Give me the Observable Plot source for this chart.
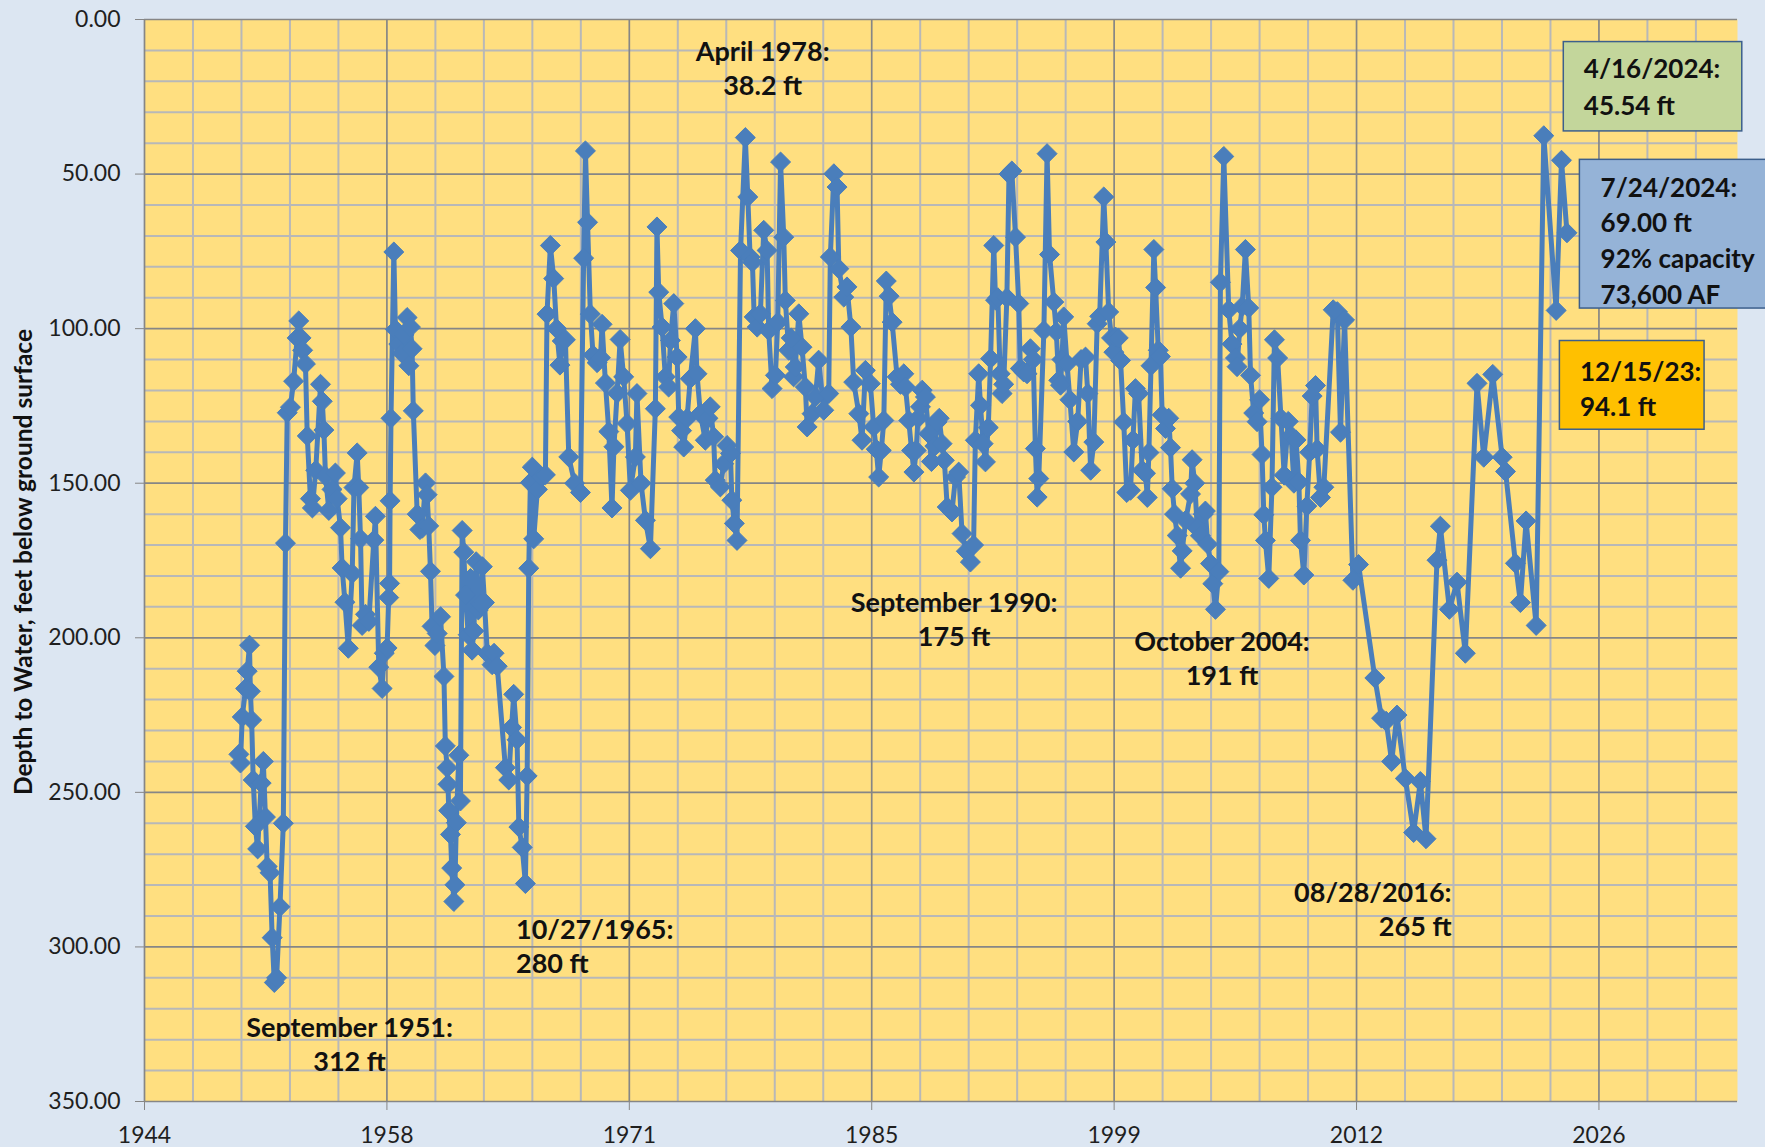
<!DOCTYPE html>
<html>
<head>
<meta charset="utf-8">
<script src="https://cdn.jsdelivr.net/npm/d3@7"></script>
<script src="https://cdn.jsdelivr.net/npm/@observablehq/plot@0.6"></script>
<style>
  html, body { margin: 0; padding: 0; background: #dce6f2; }
  #wrap { position: relative; width: 1765px; height: 1147px; overflow: hidden; background: #dce6f2; }
  #ytitle { position: absolute; left: 22px; top: 562px; transform: translate(-50%, -50%) rotate(-90deg);
            font: bold 24.5px Lato, "Open Sans", sans-serif; color: #111; white-space: nowrap; }
</style>
</head>
<body>
<div id="wrap">
  <div id="chart"></div>
  <div id="ytitle">Depth to Water, feet below ground surface</div>
</div>
<script>
// ---- Data (decimal year, depth to water in ft) ----
const years = [
1949.83,1949.92,1950.02,1950.21,1950.30,1950.43,1950.48,1950.55,1950.64,1950.76,
1950.89,1951.09,1951.21,1951.33,1951.43,1951.59,1951.71,1951.83,1951.96,1952.15,
1952.34,1952.46,1952.56,1952.74,1952.92,1953.12,1953.21,1953.34,1953.43,1953.59,
1953.69,1953.87,1953.98,1954.17,1954.44,1954.54,1954.63,1954.72,1954.91,1955.09,
1955.28,1955.38,1955.57,1955.66,1955.82,1956.01,1956.23,1956.33,1956.51,1956.60,
1956.70,1956.79,1956.98,1957.17,1957.45,1957.54,1957.73,1957.92,1958.04,1958.20,
1958.29,1958.34,1958.37,1958.42,1958.58,1958.67,1958.86,1959.05,1959.15,1959.33,
1959.43,1959.52,1959.61,1959.68,1959.90,1960.05,1960.18,1960.37,1960.46,1960.55,
1960.65,1960.74,1960.90,1961.03,1961.22,1961.41,1961.49,1961.59,1961.64,1961.68,
1961.78,1961.85,1961.97,1962.03,1962.11,1962.25,1962.34,1962.44,1962.53,1962.63,
1962.78,1962.91,1963.00,1963.10,1963.23,1963.35,1963.48,1963.58,1963.70,1963.86,
1964.13,1964.24,1964.42,1964.88,1965.07,1965.23,1965.35,1965.54,1965.64,1965.83,
1966.01,1966.11,1966.20,1966.29,1966.40,1966.48,1966.69,1966.94,1967.14,1967.23,
1967.42,1967.61,1967.77,1967.96,1968.09,1968.27,1968.46,1968.79,1969.12,1969.30,
1969.40,1969.52,1969.68,1969.83,1970.06,1970.25,1970.34,1970.53,1970.72,1970.90,
1971.01,1971.19,1971.36,1971.56,1971.75,1971.94,1972.22,1972.31,1972.54,1972.79,
1973.07,1973.35,1973.44,1973.54,1973.73,1973.91,1974.10,1974.20,1974.39,1974.58,
1974.67,1974.83,1974.95,1975.14,1975.32,1975.61,1975.70,1975.89,1976.17,1976.32,
1976.45,1976.64,1976.73,1977.02,1977.21,1977.40,1977.59,1977.67,1977.81,1977.96,
1978.16,1978.43,1978.57,1978.70,1978.83,1978.93,1979.10,1979.28,1979.47,1979.66,
1979.75,1979.94,1980.13,1980.26,1980.42,1980.60,1980.69,1980.88,1981.02,1981.16,
1981.25,1981.45,1981.63,1981.82,1981.92,1982.20,1982.39,1982.57,1982.86,1983.14,
1983.23,1983.43,1983.61,1983.71,1983.99,1984.17,1984.39,1984.55,1984.84,1985.02,
1985.21,1985.49,1985.68,1985.82,1985.96,1986.11,1986.25,1986.39,1986.55,1986.72,
1987.00,1987.19,1987.38,1987.47,1987.66,1987.82,1987.95,1988.08,1988.18,1988.32,
1988.42,1988.60,1988.79,1988.94,1989.13,1989.26,1989.38,1989.54,1989.67,1989.83,
1990.10,1990.30,1990.48,1990.67,1990.91,1991.14,1991.32,1991.42,1991.61,1991.71,
1991.86,1991.99,1992.15,1992.28,1992.46,1992.56,1992.69,1992.82,1992.93,1993.02,
1993.20,1993.32,1993.48,1993.69,1993.87,1993.96,1994.15,1994.34,1994.53,1994.69,
1994.81,1994.91,1995.00,1995.29,1995.47,1995.61,1995.85,1995.99,1996.13,1996.23,
1996.31,1996.41,1996.60,1996.76,1996.98,1997.20,1997.39,1997.64,1997.77,1997.93,
1998.11,1998.30,1998.44,1998.67,1998.79,1998.95,1999.11,1999.24,1999.33,1999.49,
1999.62,1999.80,1999.97,2000.18,2000.32,2000.46,2000.64,2000.84,2001.03,2001.13,
2001.22,2001.34,2001.50,2001.60,2001.75,2001.87,2001.97,2002.16,2002.34,2002.44,
2002.54,2002.67,2002.82,2003.01,2003.10,2003.30,2003.57,2003.66,2003.81,2003.95,
2004.13,2004.29,2004.41,2004.54,2004.70,2004.83,2004.98,2005.17,2005.26,2005.45,
2005.73,2005.91,2006.11,2006.20,2006.35,2006.49,2006.67,2006.86,2006.96,2007.14,
2007.33,2007.47,2007.61,2007.71,2007.80,2007.99,2008.17,2008.31,2008.49,2008.68,
2008.86,2009.09,2009.25,2009.41,2009.53,2009.69,2009.78,2009.97,2010.14,2010.30,
2010.44,2010.63,2010.72,2010.91,2011.10,2011.63,2011.86,2012.04,2012.27,2012.74,
2013.06,2013.98,2014.36,2014.62,2014.93,2015.23,2015.70,2016.17,2016.55,2016.87,
2017.49,2017.68,2018.19,2018.62,2019.09,2019.75,2020.13,2020.64,2021.17,2021.36,
2021.92,2022.20,2022.52,2023.09,2023.52,2024.22,2024.52,2024.83
];
const depths = [
237.7,240.5,225.6,216.4,210.8,202.4,217.3,226.6,246,261,
268.3,247,240,258,274,276,297,311.5,310,287,
260,169.4,127.2,125.4,117,103,97.5,103,107,111.4,
134.7,155,158,145.8,118,123.5,132.8,147.7,158.8,152,
146.7,155,164.4,177.4,188.5,203.4,179.2,151.4,140.2,151.4,
168,196,192.4,194.7,168.4,160.7,209.5,216.4,205,203.3,
187,182.4,155.7,129,75.2,100.3,105,108,102,96.4,
112,99.5,106.5,126.6,160,165,164.6,149.9,153.7,163.8,
178.5,196.3,202.5,198.6,193.2,212.5,235,242,247.4,255.9,
263.6,274.5,285.3,279.9,259.8,238,252.8,165.3,172.3,186.2,
199,180.8,204,197.8,175.4,191,189,177,188.6,205,
208.7,205,209.2,242,246,229,218.3,233,261.2,267.8,
279.5,244.7,177.5,149.8,144.8,168,152,148,147.3,95.3,
73.1,83.8,100,111.8,104,103.6,141.5,150,153,77.2,
42.5,65.6,95.3,108.5,111,109.4,98.6,117.6,133.3,158,
138.2,120.9,103.5,115.6,130.7,152.3,141.5,121,150,162,
171.2,125.9,67.1,88.2,99.5,115.6,118.9,103.8,91.9,109.2,
128.6,133,138.3,129,116.2,100,114.6,127.5,136.1,129,
125.3,135,149,151.2,143.7,137.8,140.4,155.5,163,168.5,
74.7,38.2,57.4,76.8,78.5,96.2,99.5,95.2,68.2,74.7,
100.6,119.4,115.1,97.9,46.1,70.4,90.9,107,103,115.6,
112.4,95.2,106,118.9,131.8,127.5,122.1,110.2,126.4,121,
76.8,49.9,54.2,80.6,89.8,86.5,99.5,117.3,127.5,136.1,
113.5,117.8,131.8,139,148,139.4,129.7,84.6,89.5,97.9,
115.6,118,114.6,118.9,129.7,139.4,146.4,139.4,129,125.3,
119.9,122.1,134,143,138,130.2,129,137.2,142.6,157.7,
159.3,148,146.4,166.3,172,175.5,170,136.1,114.6,124.8,
137.2,143.1,132,109.7,73.1,90.8,90,114.6,121,118,
90,50,49,70.4,91.9,112.9,114,114.6,106.5,110,
138.8,154.5,148.5,100.6,43.4,76,91.4,101,116.7,118.3,
110,96.2,111.3,123,139.9,130,110,109.2,121,145.8,
136.7,98.4,96,57.4,72,94.6,103,107.6,102.7,103,
110.3,130.2,153,152.3,136,119.4,121,145.8,146.8,154.6,
140.1,112,74.4,86.7,107,109,127.9,132.3,129,138.5,
151.8,160,166.9,177.5,171.9,162,153.5,142.4,150,164.6,
167,160,159,169.7,176,182.5,190.8,178.6,85,44.3,
93.9,105,109.5,112.3,100,92.8,74.4,93.3,115.1,127.3,
130.1,123,140.7,160.2,168.5,180.8,151.3,103.6,109.5,129,
147.4,130,134.6,150,136,149.6,168.5,179.7,157.4,140,
121.8,118.4,139,154.6,151.3,93.9,94.5,133.5,97.2,181.4,
176.3,213,226,227,240,225,245.5,263,246.5,265,
174.9,163.9,190.8,182,205,117.7,141.6,114.8,141.6,146.2,
175.9,188.6,162.2,196,37.6,94.1,45.54,69.0
];

// ---- Axis tick labels ----
const xTickLabels = ["1944", "1958", "1971", "1985", "1999", "2012", "2026"];
const yTickValues = [0, 50, 100, 150, 200, 250, 300, 350];

// ---- Annotation texts ----
const annoTexts = ["September 1951:\n312 ft", "10/27/1965:\n280 ft", "April 1978:\n38.2 ft",
                   "September 1990:\n175 ft", "October 2004:\n191 ft", "08/28/2016:\n265 ft"];
const boxTexts = ["4/16/2024:\n45.54 ft", "7/24/2024:\n69.00 ft\n92% capacity\n73,600 AF", "12/15/23:\n94.1 ft"];

// ---- Layout (in chart coordinates) ----
const xStart = 1944.5, xEnd = 2034.46;
const majorStep = 5000 / 365.25, minorStep = 1000 / 365.25;
const majorX = xTickLabels.map((_, i) => xStart + i * majorStep);
const minorX = d3.range(1, 33).filter(i => i % 5 !== 0).map(i => xStart + i * minorStep);
const minorY = d3.range(0, 351, 10).filter(v => v % 50 !== 0);
const labelFor = new Map(majorX.map((v, i) => [v, xTickLabels[i]]));

const data = years.map((x, i) => ({x, y: depths[i]}));

const annos = [
  {x: 1956.08, y: 331.2, text: annoTexts[0], anchor: "middle"},
  {x: 1965.48, y: 299.4, text: annoTexts[1], anchor: "start"},
  {x: 1979.41, y: 15.3,  text: annoTexts[2], anchor: "middle"},
  {x: 1990.22, y: 193.6, text: annoTexts[3], anchor: "middle"},
  {x: 2005.35, y: 206.2, text: annoTexts[4], anchor: "middle"},
  {x: 2018.31, y: 287.3, text: annoTexts[5], anchor: "end"}
];
const boxes = [
  {x1: 2024.65, x2: 2034.73, y1: 7.3,  y2: 36.2,  fill: "#c3d69b", tx: 2025.78, ty: 21.1,  text: boxTexts[0], lh: 1.44},
  {x1: 2025.56, x2: 2037.0,  y1: 45.4, y2: 93.5,  fill: "#95b3d7", tx: 2026.73, ty: 70.9,  text: boxTexts[1], lh: 1.37},
  {x1: 2024.43, x2: 2032.60, y1: 104.0, y2: 132.7, fill: "#ffc000", tx: 2025.56, ty: 118.9, text: boxTexts[2], lh: 1.38}
];

const blue = "#4a7ebb";
const font = "Lato, 'Open Sans', sans-serif";

const chart = Plot.plot({
  width: 1765,
  height: 1147,
  marginLeft: 144,
  marginRight: 28,
  marginTop: 19,
  marginBottom: 46,
  style: {background: "#dce6f2", fontFamily: font, color: "#1f1f1f"},
  x: {type: "linear", domain: [xStart, xEnd]},
  y: {domain: [0, 350], reverse: true},
  marks: [
    Plot.frame({fill: "#ffdf80", stroke: "none"}),
    Plot.ruleX(minorX, {stroke: "#b8b8b8", strokeWidth: 2}),
    Plot.ruleY(minorY, {stroke: "#b8b8b8", strokeWidth: 2}),
    Plot.ruleX(majorX, {stroke: "#868686", strokeWidth: 1.7}),
    Plot.ruleY(yTickValues, {stroke: "#868686", strokeWidth: 1.7}),
    Plot.axisY({ticks: yTickValues, tickFormat: d => d.toFixed(2), tickSize: 9, tickPadding: 15,
                fontSize: 23, stroke: "#868686", label: null}),
    Plot.axisX({ticks: majorX, tickFormat: d => labelFor.get(d), tickSize: 9, tickPadding: 16,
                fontSize: 23, stroke: "#868686", label: null}),
    Plot.line(data, {x: "x", y: "y", stroke: blue, strokeWidth: 5, strokeLinejoin: "round"}),
    Plot.dot(data, {x: "x", y: "y", symbol: "diamond2", r: 9, fill: blue, stroke: blue, strokeWidth: 1}),
    ...["middle", "start", "end"].map(a =>
      Plot.text(annos.filter(d => d.anchor === a), {x: "x", y: "y", text: "text", textAnchor: a,
        fontSize: 27, fontWeight: "bold", fill: "#111", lineHeight: 1.26})),
    Plot.rect(boxes, {x1: "x1", x2: "x2", y1: "y1", y2: "y2", fill: "fill", stroke: "#3c5f8c", strokeWidth: 1.5}),
    ...boxes.map(b => Plot.text([b], {x: "tx", y: "ty", text: "text", textAnchor: "start",
        fontSize: 26, fontWeight: "bold", fill: "#111", lineHeight: b.lh}))
  ]
});
document.getElementById("chart").appendChild(chart);
</script>
</body>
</html>
